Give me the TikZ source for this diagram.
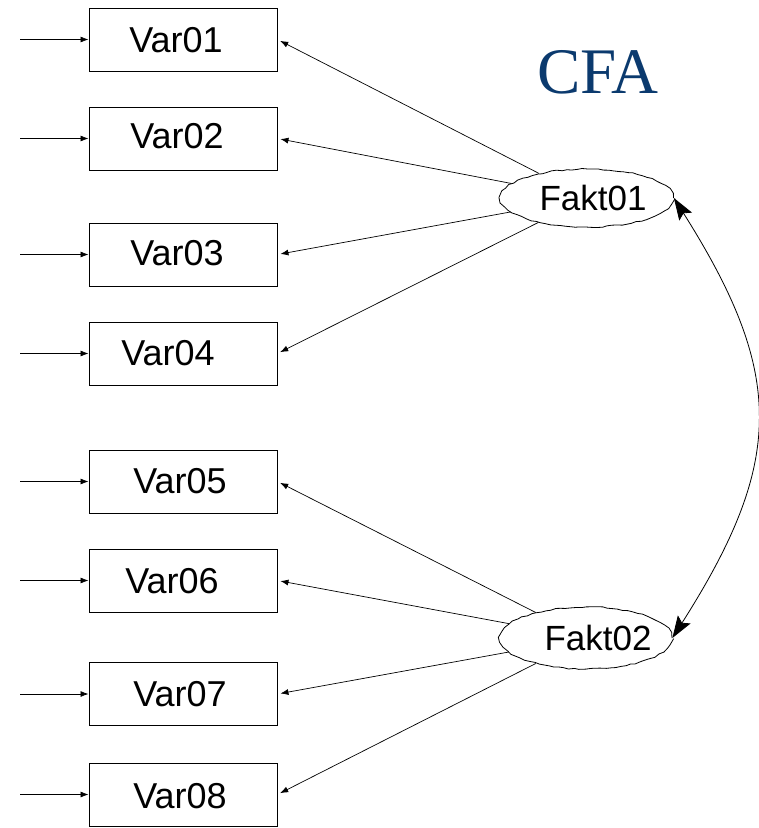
\documentclass[tikz,border=0pt]{standalone}
\usepackage{fontspec}
\setmainfont{Liberation Sans}
\newfontfamily\cfafont{Liberation Serif}
\usetikzlibrary{arrows.meta,shapes.geometric,decorations.pathmorphing}
\definecolor{navy}{HTML}{0B3A6E}
\begin{document}
\begin{tikzpicture}[x=1pt,y=-1pt,
  box/.style={draw,line width=1pt,minimum width=188pt,minimum height=63pt,inner sep=0pt},
  lbl/.style={font=\fontsize{36}{36}\selectfont,inner sep=0pt},
  fak/.style={draw,ellipse,line width=0.8pt,inner sep=0pt,decorate,
    decoration={random steps,segment length=5pt,amplitude=0.7pt},
    font=\fontsize{35}{35}\selectfont},
  load/.style={line width=0.7pt,-{Latex[length=8pt,width=6pt]},shorten >=3pt},
  err/.style={line width=0.7pt,-{Latex[length=8pt,width=6pt]}},
  cov/.style={line width=0.8pt,{Stealth[length=22pt,width=15pt,inset=4pt]}-{Stealth[length=22pt,width=15pt,inset=4pt]}}]
\useasboundingbox (0,0) rectangle (759,828);
\pgfmathsetseed{7}
% boxes
\node[box] (v1) at (183,39.5) {};
\node[box] (v2) at (183,138.5) {};
\node[box] (v3) at (183,254.5) {};
\node[box] (v4) at (183,353.5) {};
\node[box] (v5) at (183,481.5) {};
\node[box] (v6) at (183,580.5) {};
\node[box] (v7) at (183,694) {};
\node[box] (v8) at (183,794.5) {};
\node[lbl] (l1) at (176,40) {Var01};
\node[lbl] (l2) at (177,136) {Var02};
\node[lbl] (l3) at (177,253) {Var03};
\node[lbl] (l4) at (168,353) {Var04};
\node[lbl] (l5) at (180,481) {Var05};
\node[lbl] (l6) at (172,581) {Var06};
\node[lbl] (l7) at (180,694) {Var07};
\node[lbl] (l8) at (180,796) {Var08};
% factors
\node[fak,minimum width=173pt,minimum height=58pt] (f1) at (587,198) {};
\node[fak,minimum width=172pt,minimum height=62pt] (f2) at (586,638) {};
\node[lbl,font=\fontsize{35}{35}\selectfont] (t1) at (593,198) {Fakt01};
\node[lbl,font=\fontsize{35}{35}\selectfont] (t2) at (598,638) {Fakt02};
% title
\node[inner sep=0pt,text=navy,font=\cfafont\fontsize{65}{65}\selectfont] (cfa) at (598,72) {CFA};
% error arrows
\foreach \i/\y in {1/39.5,2/138.5,3/254.5,4/353.5,5/481.5,6/580.5,7/694,8/794.5}{
  \coordinate (e\i) at (20,\y);
  \draw[err] (e\i) -- (v\i.west);
}
% loadings
\foreach \i in {1,2,3,4}{ \draw[load] (f1) -- (v\i.east); }
\foreach \i in {5,6,7,8}{ \draw[load] (f2) -- (v\i.east); }
% covariance
\draw[cov] (f1.east) .. controls (785,374) and (785,461) .. (f2.east);
\end{tikzpicture}
\end{document}
